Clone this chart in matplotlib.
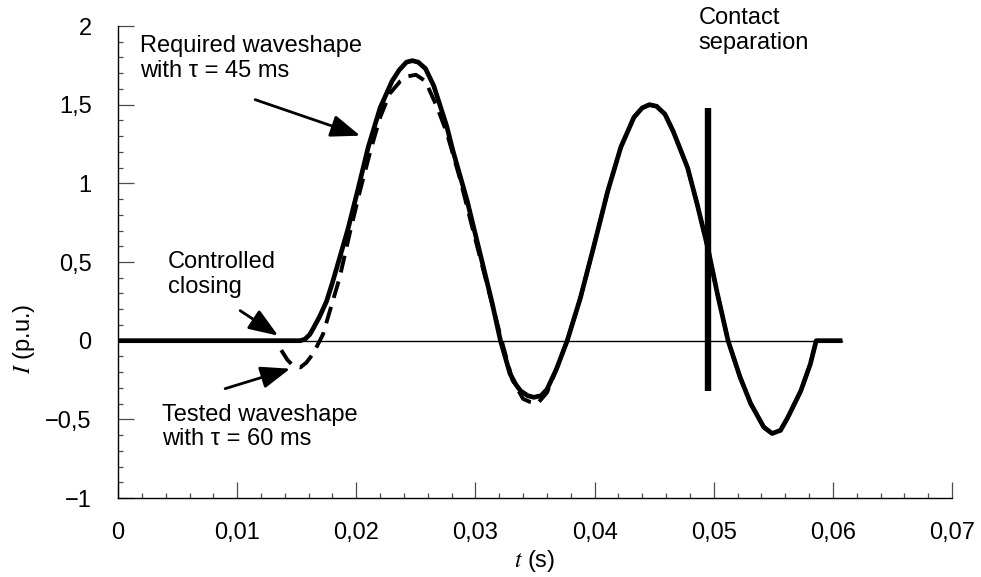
import matplotlib
matplotlib.use('Agg')
import matplotlib.pyplot as plt
from matplotlib.ticker import MultipleLocator, FuncFormatter

plt.rcParams['font.family'] = ['Liberation Sans', 'DejaVu Sans']
plt.rcParams['mathtext.fontset'] = 'stix'

# required waveshape, tau = 45 ms (solid)
req_t = [0, 0.0153, 0.0157, 0.0161, 0.0164, 0.0169, 0.0175, 0.0180, 0.0185, 0.0193,
         0.0201, 0.0210, 0.0220, 0.0230, 0.0236, 0.0242, 0.0247, 0.0252, 0.0258,
         0.0265, 0.0276, 0.0281, 0.0293, 0.0304, 0.0314, 0.0321, 0.0329, 0.0334,
         0.0338, 0.0344, 0.0349, 0.0355, 0.0360, 0.0368, 0.0377, 0.0388, 0.0399,
         0.0411, 0.0422, 0.0433, 0.0440, 0.0446, 0.0452, 0.0459, 0.0466, 0.0478,
         0.0486, 0.0495, 0.0503, 0.0512, 0.0522, 0.0531, 0.0542, 0.0549, 0.0556,
         0.0562, 0.0573, 0.0581, 0.0586, 0.0608]
req_i = [0, 0, 0.01, 0.04, 0.08, 0.15, 0.25, 0.37, 0.50, 0.71,
         0.95, 1.23, 1.48, 1.65, 1.72, 1.77, 1.78, 1.77, 1.73,
         1.62, 1.36, 1.21, 0.89, 0.55, 0.24, 0, -0.21, -0.28,
         -0.32, -0.35, -0.36, -0.35, -0.31, -0.18, 0, 0.27, 0.59,
         0.95, 1.23, 1.42, 1.48, 1.50, 1.49, 1.44, 1.33, 1.10,
         0.87, 0.59, 0.30, 0, -0.23, -0.40, -0.55, -0.59, -0.57,
         -0.49, -0.32, -0.15, 0, 0]

# tested waveshape, tau = 60 ms (dashed)
test_t = [0.0137, 0.0142, 0.0147, 0.0153, 0.0158, 0.0164, 0.0172, 0.0179, 0.0186,
          0.0195, 0.0203, 0.0212, 0.0220, 0.0228, 0.0237, 0.0243, 0.0250, 0.0258,
          0.0268, 0.0276, 0.0287, 0.0298, 0.0309, 0.0322, 0.0331, 0.0340, 0.0346,
          0.0352, 0.0360, 0.0368, 0.0377, 0.0388, 0.0399, 0.0411, 0.0422, 0.0433,
          0.0440, 0.0446, 0.0452, 0.0459, 0.0466, 0.0478, 0.0486, 0.0495, 0.0503,
          0.0512, 0.0522, 0.0531, 0.0542, 0.0549, 0.0556, 0.0562, 0.0573, 0.0581,
          0.0586]
test_i = [-0.06, -0.12, -0.16, -0.17, -0.14, -0.08, 0.04, 0.22, 0.40,
          0.70, 0.95, 1.21, 1.42, 1.57, 1.65, 1.68, 1.69, 1.65,
          1.48, 1.32, 1.03, 0.70, 0.38, 0, -0.25, -0.37, -0.39,
          -0.40, -0.33, -0.18, 0, 0.27, 0.59, 0.95, 1.23, 1.42,
          1.48, 1.50, 1.49, 1.44, 1.33, 1.10, 0.87, 0.59, 0.30,
          0, -0.23, -0.40, -0.55, -0.59, -0.57, -0.49, -0.32, -0.15,
          0]

t_sep = 0.0495
sep_range = [-0.32, 1.48]

def comma_fmt(v, pos):
    s = ('%.2f' % v).rstrip('0').rstrip('.')
    if abs(v) < 1e-9:
        s = '0'
    return s.replace('.', ',').replace('-', '\u2212')

fig = plt.figure(figsize=(9.81, 5.77), dpi=100)
ax = fig.add_axes([0.1203, 0.1369, 0.8502, 0.818])

ax.plot([0, 0.0608], [0, 0], color='k', lw=1.0)
ax.plot(req_t, req_i, color='k', lw=3.4, solid_capstyle='butt', solid_joinstyle='round')
ax.plot(test_t, test_i, color='k', lw=2.8, dashes=(4.4, 2.4))
ax.plot([t_sep, t_sep], sep_range, color='k', lw=4.6, solid_capstyle='butt')

ax.set_xlim(0, 0.07)
ax.set_ylim(-1, 2)
ax.spines['top'].set_visible(False)
ax.spines['right'].set_visible(False)
ax.spines['left'].set_linewidth(1.0)
ax.spines['bottom'].set_linewidth(1.0)

ax.xaxis.set_major_locator(MultipleLocator(0.01))
ax.xaxis.set_minor_locator(MultipleLocator(0.002))
ax.yaxis.set_major_locator(MultipleLocator(0.5))
ax.yaxis.set_minor_locator(MultipleLocator(0.1))
ax.xaxis.set_major_formatter(FuncFormatter(comma_fmt))
ax.yaxis.set_major_formatter(FuncFormatter(comma_fmt))
ax.tick_params(which='major', direction='in', length=11.5, width=0.9, color='0.3',
               labelsize=17, pad=17)
ax.tick_params(which='minor', direction='in', length=3.6, width=0.9, color='0.3')
ax.tick_params(axis='y', which='major', pad=19)

ax.set_xlabel('$t$ (s)', fontsize=17)
ax.set_ylabel('$I$ (p.u.)', fontsize=17)
ax.xaxis.set_label_coords(0.5, -0.106)
ax.yaxis.set_label_coords(-0.097, 0.337)

ax.text(0.00185, 1.94, 'Required waveshape\nwith \u03c4 = 45 ms', fontsize=17,
        va='top', ha='left', linespacing=1.15)
ax.text(0.0042, 0.57, 'Controlled\nclosing', fontsize=17, va='top', ha='left',
        linespacing=1.15)
ax.text(0.0037, -0.40, 'Tested waveshape\nwith \u03c4 = 60 ms', fontsize=17,
        va='top', ha='left', linespacing=1.15)
ax.text(0.0487, 2.12, 'Contact\nseparation', fontsize=17, va='top', ha='left',
        linespacing=1.15, clip_on=False)

arrow = dict(arrowstyle='-|>,head_length=0.9,head_width=0.34', lw=2.0, color='k',
             shrinkA=0, shrinkB=0, mutation_scale=20)
ax.annotate('', xy=(0.02033, 1.303), xytext=(0.01151, 1.532), arrowprops=arrow)
ax.annotate('', xy=(0.01344, 0.032), xytext=(0.01025, 0.191), arrowprops=arrow)
ax.annotate('', xy=(0.01445, -0.178), xytext=(0.00899, -0.305), arrowprops=arrow)

plt.savefig('out.png', dpi=100, facecolor='w')
plt.close()
